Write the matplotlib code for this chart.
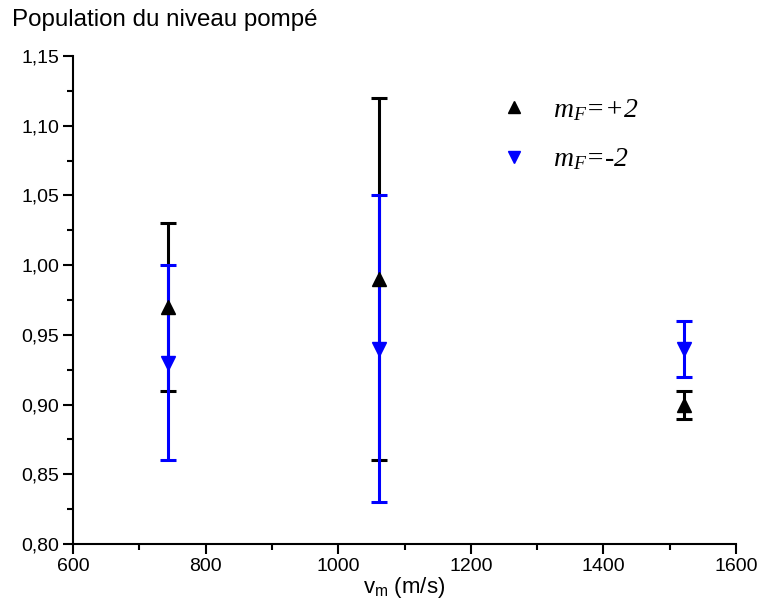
import numpy as np
import matplotlib.pyplot as plt
from matplotlib.ticker import MultipleLocator, FuncFormatter
from matplotlib.lines import Line2D

plt.rcParams['font.family'] = ['Liberation Sans', 'DejaVu Sans']
plt.rcParams['mathtext.fontset'] = 'custom'
plt.rcParams['mathtext.it'] = 'Liberation Serif:italic'
plt.rcParams['mathtext.rm'] = 'Liberation Serif:italic'

# Données
vm = [743, 1061, 1522]
pop_plus = [0.97, 0.99, 0.90]
err_plus = [0.06, 0.13, 0.01]
pop_minus = [0.93, 0.94, 0.94]
err_minus = [0.07, 0.11, 0.02]

fig = plt.figure(figsize=(7.59, 6.13), dpi=100)
ax = fig.add_axes([73 / 759, 69 / 613, 663 / 759, 488 / 613])

ax.errorbar(vm, pop_plus, yerr=err_plus, fmt='^', color='black', ms=10,
            elinewidth=2.2, capsize=6, capthick=2.2)
ax.errorbar(vm, pop_minus, yerr=err_minus, fmt='v', color='blue', ms=10,
            elinewidth=2.2, capsize=6, capthick=2.2)

ax.set_xlim(600, 1600)
ax.set_ylim(0.80, 1.15)
ax.xaxis.set_major_locator(MultipleLocator(200))
ax.xaxis.set_minor_locator(MultipleLocator(100))
ax.yaxis.set_major_locator(MultipleLocator(0.05))
ax.yaxis.set_minor_locator(MultipleLocator(0.025))
ax.yaxis.set_major_formatter(FuncFormatter(lambda v, p: f'{v:.2f}'.replace('.', ',')))

for s in ['top', 'right']:
    ax.spines[s].set_visible(False)
for s in ['left', 'bottom']:
    ax.spines[s].set_linewidth(1.5)
ax.tick_params(which='major', length=7, width=1.5, labelsize=14, pad=3)
ax.tick_params(which='minor', length=4, width=1.5)

ax.set_xlabel(r'v$_{\mathregular{m}}$ (m/s)', fontsize=16, labelpad=0)
fig.text(12 / 759, 1 - 20 / 613, 'Population du niveau pompé', fontsize=17.4, va='center')

handles = [Line2D([], [], marker='^', color='black', ls='none', ms=9),
           Line2D([], [], marker='v', color='blue', ls='none', ms=9)]
ax.legend(handles, [r'$m_F$=+2', r'$m_F$=-2'], loc='upper left',
          bbox_to_anchor=(0.585, 0.967), frameon=False,
          handletextpad=0.4, labelspacing=0.85,
          prop={'family': 'Liberation Serif', 'style': 'italic', 'size': 20})

fig.savefig('out.png', dpi=100)
